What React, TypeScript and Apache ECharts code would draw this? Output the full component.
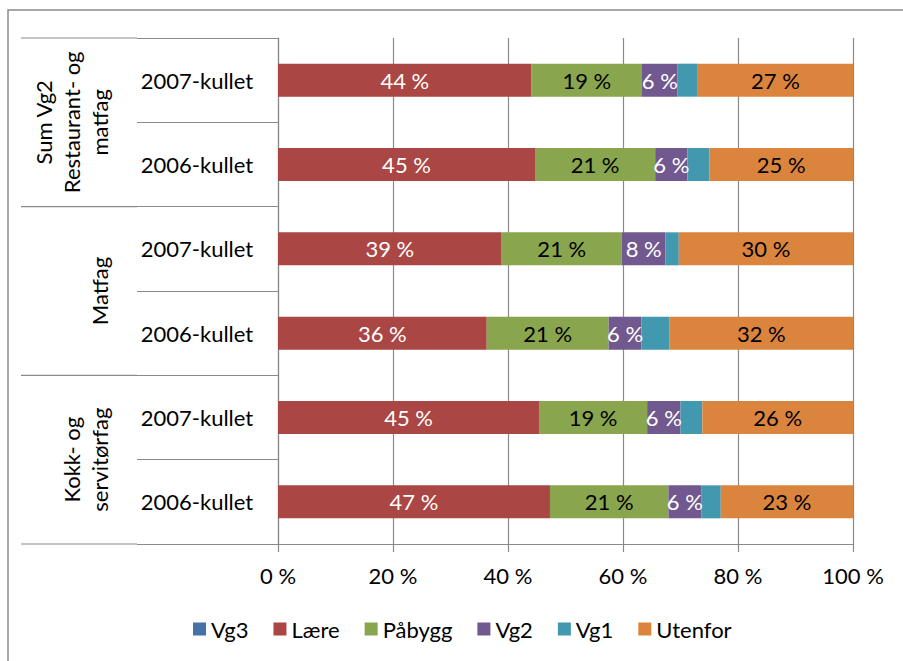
import React, { useEffect, useRef } from "react";
import * as echarts from "echarts";

// Rows listed top to bottom
const groups = ["Sum Vg2\nRestaurant- og\nmatfag", "Matfag", "Kokk- og\nservitørfag"];
const cohorts = ["2007-kullet", "2006-kullet", "2007-kullet", "2006-kullet", "2007-kullet", "2006-kullet"];
const rowIds = ["sum-2007", "sum-2006", "mat-2007", "mat-2006", "kokk-2007", "kokk-2006"];

const seriesNames = ["Vg3", "Lære", "Påbygg", "Vg2", "Vg1", "Utenfor"];
const vg3 = [0, 0, 0, 0, 0, 0];
const laere = [44.1, 44.7, 38.9, 36.3, 45.4, 47.3];
const pabygg = [19.2, 20.9, 20.9, 21.2, 18.8, 20.6];
const vg2 = [6.2, 5.6, 7.6, 5.7, 5.8, 5.7];
const vg1 = [3.5, 3.8, 2.3, 4.9, 3.8, 3.4];
const utenfor = [27.0, 25.0, 30.3, 31.9, 26.2, 23.0];
const xTicks = [0, 20, 40, 60, 80, 100];

const colors = ["#4572A7", "#AA4643", "#89A54E", "#71588F", "#4198AF", "#DB843D"];
const labelColors = [null, "#ffffff", "#000000", "#ffffff", null, "#000000"];

const FONT = "Lato, 'Open Sans', sans-serif";
const FS = 22;
const GRID = { left: 278, right: 50, top: 38, bottom: 117 };
const LINE = "#8a8a8a";

export default function App() {
  const ref = useRef<HTMLDivElement>(null);
  useEffect(() => {
    if (!ref.current) return;
    const chart = echarts.init(ref.current, null, { renderer: "svg" });
    const H = 661;
    const plotH = H - GRID.top - GRID.bottom;
    const bandH = plotH / cohorts.length;
    const allData = [vg3, laere, pabygg, vg2, vg1, utenfor];

    const graphics: any[] = [
      {
        type: "rect",
        shape: { x: 8, y: 10, width: 1200, height: 1200 },
        style: { fill: "none", stroke: LINE, lineWidth: 1.5 },
        silent: true,
      },
    ];
    for (let g = 0; g <= groups.length; g++) {
      const y = GRID.top + g * 2 * bandH;
      graphics.push({
        type: "line",
        shape: { x1: 21, y1: y, x2: 137, y2: y },
        style: { stroke: LINE, lineWidth: 1.2 },
        silent: true,
      });
    }
    groups.forEach((g, i) => {
      graphics.push({
        type: "text",
        x: 113,
        y: GRID.top + (i * 2 + 1) * bandH,
        rotation: Math.PI / 2,
        style: {
          text: g,
          font: `${FS}px ${FONT}`,
          fill: "#000",
          align: "center",
          verticalAlign: "bottom",
          textAlign: "center",
          textVerticalAlign: "bottom",
          lineHeight: 28,
        },
        silent: true,
      });
    });

    chart.setOption({
      animation: false,
      backgroundColor: "#ffffff",
      textStyle: { fontFamily: FONT },
      grid: { ...GRID, containLabel: false },
      legend: {
        data: seriesNames,
        left: 188,
        top: 613,
        itemWidth: 13,
        itemHeight: 13,
        itemGap: 25,
        icon: "rect",
        textStyle: { fontSize: FS, fontFamily: FONT, color: "#000" },
      },
      xAxis: {
        type: "value",
        min: 0,
        max: 100,
        interval: 20,
        axisLine: { show: true, lineStyle: { color: LINE, width: 1.2 } },
        axisTick: { show: true, length: 8, lineStyle: { color: LINE, width: 1.2 } },
        splitLine: { show: true, lineStyle: { color: LINE, width: 1.2 } },
        axisLabel: {
          formatter: (v: number) => (xTicks.includes(v) ? `${v} %` : ""),
          fontSize: FS,
          fontFamily: FONT,
          color: "#000",
          margin: 20,
        },
      },
      yAxis: {
        type: "category",
        data: rowIds,
        inverse: true,
        axisLine: { show: true, lineStyle: { color: LINE, width: 1.2 } },
        axisTick: {
          show: true,
          interval: 0,
          length: 141,
          lineStyle: { color: LINE, width: 1.2 },
        },
        axisLabel: {
          interval: 0,
          formatter: (_v: string, idx: number) => cohorts[idx],
          align: "center",
          margin: 81,
          fontSize: FS,
          fontFamily: FONT,
          color: "#000",
        },
      },
      series: seriesNames.map((name, si) => ({
        name,
        type: "bar",
        stack: "total",
        barWidth: 33,
        itemStyle: { color: colors[si] },
        label: labelColors[si]
          ? {
              show: true,
              position: "inside",
              color: labelColors[si],
              fontSize: FS,
              fontFamily: FONT,
              formatter: (p: any) => `${Math.round(p.value)} %`,
            }
          : { show: false },
        data: allData[si],
      })),
      graphic: graphics,
    });
    return () => chart.dispose();
  }, []);
  return (
    <div
      ref={ref}
      style={{ position: "absolute", left: 0, top: 0, width: 903, height: 661, background: "#fff" }}
    />
  );
}
